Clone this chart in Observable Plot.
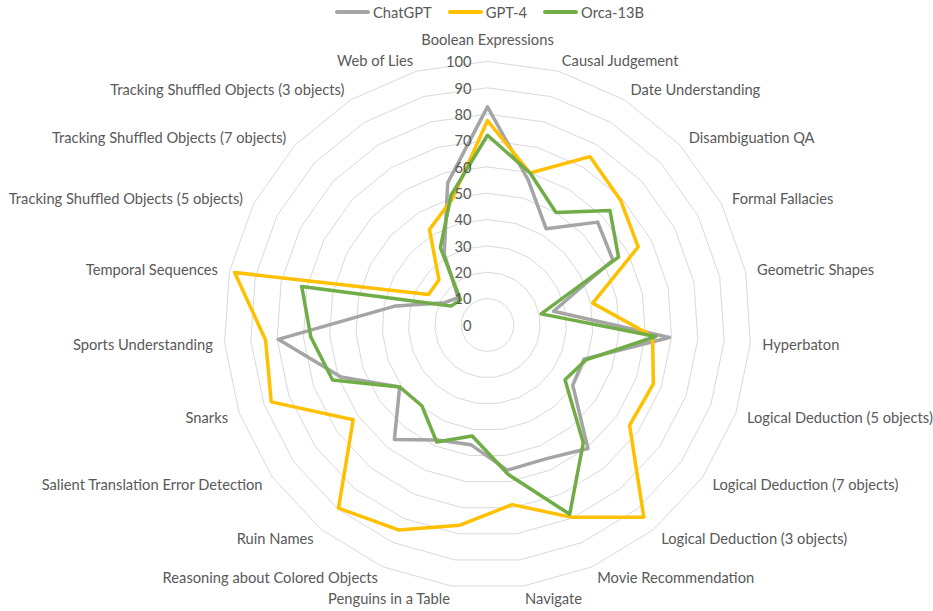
<!DOCTYPE html>
<html><head><meta charset="utf-8">
<script src="https://cdn.jsdelivr.net/npm/d3@7"></script>
<script src="https://cdn.jsdelivr.net/npm/@observablehq/plot@0.6"></script>
<style>
body{margin:0;background:#fff;font-family:Lato,"Open Sans",sans-serif;}
#legend{height:24px;display:flex;justify-content:center;align-items:center;font-size:14.7px;color:#595959;padding-left:46px;}
.item{display:flex;align-items:center;margin:0 8px;}
.sw{width:35px;height:4px;margin-right:3px;border-radius:2px;}
#chart svg{display:block;}
</style></head><body>
<div id="legend"></div>
<div id="chart"></div>
<script>
const categories = ["Boolean Expressions","Causal Judgement","Date Understanding","Disambiguation QA","Formal Fallacies","Geometric Shapes","Hyperbaton","Logical Deduction (5 objects)","Logical Deduction (7 objects)","Logical Deduction (3 objects)","Movie Recommendation","Navigate","Penguins in a Table","Reasoning about Colored Objects","Ruin Names","Salient Translation Error Detection","Snarks","Sports Understanding","Temporal Sequences","Tracking Shuffled Objects (5 objects)","Tracking Shuffled Objects (7 objects)","Tracking Shuffled Objects (3 objects)","Web of Lies"];
const chatgpt = [82.8,57.2,42.8,57.2,53.6,25.6,69.2,38.8,39.6,60.4,55.4,55.6,45.9,47.6,56.0,40.8,59.0,79.6,35.6,18.4,15.2,31.6,56.0];
const gpt4 = [77.6,59.9,74.8,69.2,64.4,40.8,62.8,66.8,66.0,94.0,79.5,68.8,76.7,84.8,89.6,62.4,87.1,84.4,98.0,25.2,25.2,42.4,49.6];
const orca = [72.0,59.9,50.0,63.6,56.0,20.8,64.0,39.6,36.0,57.6,78.3,57.2,42.5,48.4,39.5,40.8,62.4,67.2,72.0,15.6,14.0,34.4,51.2];
const seriesNames = ["ChatGPT","GPT-4","Orca-13B"];
const seriesColors = ["#A5A5A5","#FFC000","#70AD47"];
const tickValues = [0,10,20,30,40,50,60,70,80,90,100];
const gridValues = [10,20,30,40,50,60,70,80,90,100];

// legend
const lg = document.getElementById("legend");
seriesNames.forEach((n,k)=>{
  const it = document.createElement("div"); it.className="item";
  const sw = document.createElement("div"); sw.className="sw"; sw.style.background=seriesColors[k];
  const t = document.createElement("span"); t.textContent=n;
  it.appendChild(sw); it.appendChild(t); lg.appendChild(it);
});

const N = categories.length;
const ang = i => i * 2 * Math.PI / N;
const px = (i,v) => v * Math.sin(ang(i));
const py = (i,v) => v * Math.cos(ang(i));

const W = 933, H = 587, U = 2.635, CX = 487, CY = 300.5;

const seriesData = [chatgpt, gpt4, orca];
const seriesPts = [];
seriesData.forEach((arr,k)=>arr.forEach((v,i)=>seriesPts.push({s:seriesNames[k], i, v, x:px(i,v), y:py(i,v)})));
const gridPts = [];
gridValues.forEach(g=>{ for(let i=0;i<N;i++) gridPts.push({g, x:px(i,g), y:py(i,g)}); });
const LR = 104.5;
const labelPts = categories.map((c,i)=>{
  const s = Math.sin(ang(i));
  return {c, i, x:px(i,LR), y:py(i,LR), anchor: s>0.01?"start":(s<-0.01?"end":"middle")};
});

const chart = Plot.plot({
  width: W, height: H, margin: 0,
  x: {domain:[-CX/U, (W-CX)/U], range:[0,W], axis:null},
  y: {domain:[-(H-CY)/U, CY/U], range:[H,0], axis:null},
  style: {fontFamily:"Lato, 'Open Sans', sans-serif", color:"#595959", background:"#fff"},
  marks: [
    Plot.line(gridPts, {x:"x", y:"y", z:"g", curve:"linear-closed", stroke:"#D9D9D9", strokeWidth:1}),
    ...seriesNames.map((n,k)=>Plot.line(seriesPts.filter(d=>d.s===n), {x:"x", y:"y", curve:"linear-closed", stroke:seriesColors[k], strokeWidth:3.5, strokeLinejoin:"round"})),
    Plot.text(tickValues, {x:0, y:d=>d, text:d=>String(d), textAnchor:"end", dx:-16, dy:1, fontSize:14.7, fill:"#595959"}),
    ...["start","end","middle"].map(a=>Plot.text(labelPts.filter(d=>d.anchor===a), {x:"x", y:"y", text:"c", textAnchor:a, dy: a==="middle"?-9:1, fontSize:14.7, fill:"#595959"}))
  ]
});
document.getElementById("chart").appendChild(chart);
</script>
</body></html>
